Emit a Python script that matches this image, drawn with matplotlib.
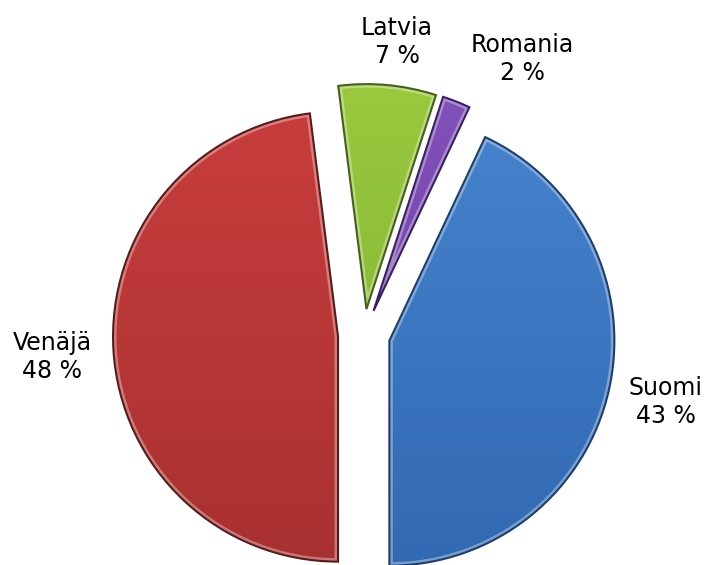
import numpy as np
import matplotlib
matplotlib.use("Agg")
import matplotlib.pyplot as plt
from matplotlib.colors import LinearSegmentedColormap
from matplotlib.patches import PathPatch

# Data
labels = ["Suomi", "Venäjä", "Latvia", "Romania"]
values = [43, 48, 7, 2]
colors_top = ["#4A86D0", "#CC3F3F", "#9CCB40", "#8552BC"]
colors_bot = ["#2F66B0", "#A52F2F", "#7AA82C", "#62389A"]
edge_colors = ["#1E3E6A", "#5A1A1A", "#44601A", "#3A2060"]

W, H = 704, 565
fig = plt.figure(figsize=(W / 100, H / 100), dpi=100)
ax = fig.add_axes([0, 0, 1, 1])

cx, cy = 364, H - 335
R = 225
startangle = 90 - 25.2  # Suomi starts at 25.2 deg clockwise from 12 o'clock
wedges, _ = ax.pie(values, radius=R, center=(cx, cy), startangle=startangle,
                   counterclock=False, explode=[26] * 4,
                   colors=colors_top,
                   wedgeprops=dict(linewidth=0))

# vertical gradient fill clipped to each wedge, plus beveled outline
for w, ct, cb, ec in zip(wedges, colors_top, colors_bot, edge_colors):
    cmap = LinearSegmentedColormap.from_list("g", [cb, ct])
    grad = np.linspace(0, 1, 256).reshape(-1, 1)
    im = ax.imshow(grad, cmap=cmap, origin="lower", aspect="auto",
                   extent=(cx - R - 60, cx + R + 60, cy - R - 60, cy + R + 60),
                   zorder=2)
    im.set_clip_path(w)
    path = w.get_path().transformed(w.get_patch_transform())
    ax.add_patch(PathPatch(path, fill=False, edgecolor="white", alpha=0.35,
                           linewidth=5, zorder=3, clip_path=w))
    ax.add_patch(PathPatch(path, fill=False, edgecolor=ec,
                           linewidth=1.5, zorder=4))

ax.set_xlim(0, W)
ax.set_ylim(0, H)
ax.set_aspect("equal")
ax.axis("off")

label_pos = {
    "Suomi": (666, H - 402),
    "Venäjä": (52, H - 357),
    "Latvia": (397, H - 42),
    "Romania": (522, H - 59),
}
for lab, v in zip(labels, values):
    x, y = label_pos[lab]
    ax.text(x, y, f"{lab}\n{v} %", ha="center", va="center", fontsize=17,
            family="DejaVu Sans", color="black", linespacing=1.2)

fig.savefig("out.png", dpi=100)
